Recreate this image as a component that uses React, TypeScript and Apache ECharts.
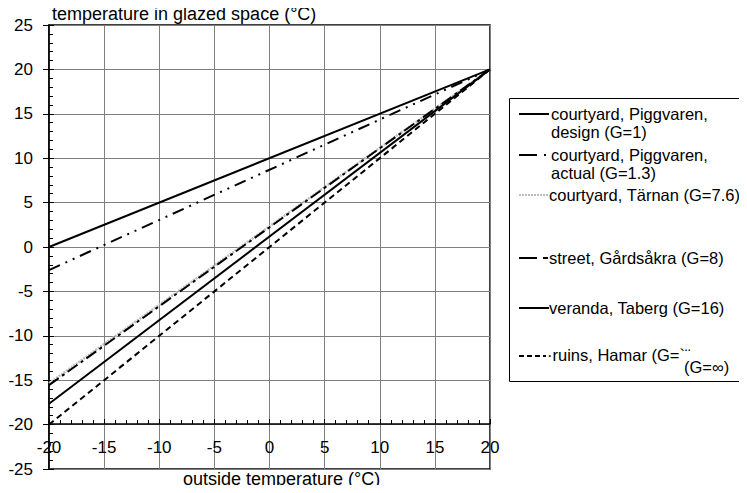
import React, { useEffect, useRef } from "react";
import * as echarts from "echarts";

const outsideTemps = [-20, 20];
const designG1 = [0, 20];
const actualG13 = [-2.6, 20];
const tarnanG76 = [-15.35, 20];
const gardsakraG8 = [-15.56, 20];
const verandaG16 = [-17.65, 20];
const ruinsGinf = [-20, 20];

const yTicks = { min: -25, max: 25, step: 5 };
const xTicks = { min: -20, max: 20, step: 5 };

const FONT = "Arial";
const FS = 17;
const FS_TITLE = 18;
const FS_LEGEND = 16.5;

const pts = (vals: number[]) => outsideTemps.map((x, i) => [x, vals[i]]);

export default function App() {
  const ref = useRef<HTMLDivElement>(null);
  useEffect(() => {
    if (!ref.current) return;
    const chart = echarts.init(ref.current, undefined, { renderer: "svg" });
    const mk = (name: string, vals: number[], lineStyle: any, z = 3) => ({
      name,
      type: "line",
      data: pts(vals),
      symbol: "none",
      z,
      lineStyle: { color: "#000", width: 2, ...lineStyle },
    });
    const lx0 = 519;
    const txt = (x: number, y: number, text: string, fs = FS_LEGEND) => ({
      type: "text",
      x,
      y,
      z: 10,
      style: { text, fontSize: fs, fontFamily: FONT, fill: "#000", verticalAlign: "middle", align: "left" },
    });
    const seg = (x1: number, x2: number, y: number, extra: any = {}) => ({
      type: "line",
      z: 10,
      shape: { x1, y1: y, x2, y2: y },
      style: { stroke: "#000", lineWidth: 2, ...extra },
    });
    chart.setOption({
      animation: false,
      grid: {
        left: 49,
        right: 257,
        top: 25,
        bottom: 24,
        show: true,
        borderColor: "#000",
        borderWidth: 1.5,
        backgroundColor: "transparent",
      },
      xAxis: {
        type: "value",
        min: xTicks.min,
        max: xTicks.max,
        interval: xTicks.step,
        offset: -45,
        axisLine: { show: true, onZero: false, lineStyle: { color: "#000", width: 1.5 } },
        axisTick: { show: true, inside: true, length: 5, lineStyle: { color: "#000" } },
        minorTick: { show: true, splitNumber: 5, length: 4, lineStyle: { color: "#000" } },
        splitLine: { show: true, lineStyle: { color: "#808080", width: 1 } },
        axisLabel: { color: "#000", fontSize: FS, fontFamily: FONT, margin: 15 },
      },
      yAxis: [
        {
          type: "value",
          min: yTicks.min,
          max: yTicks.max,
          interval: yTicks.step,
          axisLine: { show: true, onZero: false, lineStyle: { color: "#000", width: 1.5 } },
          axisTick: { show: true, inside: false, length: 6, lineStyle: { color: "#000" } },
          splitLine: { show: true, lineStyle: { color: "#808080", width: 1 } },
          axisLabel: { color: "#000", fontSize: FS, fontFamily: FONT, margin: 16 },
        },
        {
          type: "value",
          position: "left",
          offset: 0,
          min: yTicks.min,
          max: yTicks.max,
          interval: yTicks.step,
          axisLine: { show: false, onZero: false },
          axisTick: { show: true, inside: true, length: 5, lineStyle: { color: "#000" } },
          minorTick: { show: true, splitNumber: 5, length: 4, lineStyle: { color: "#000" } },
          splitLine: { show: false },
          axisLabel: { show: false },
        },
      ],
      series: [
        mk("courtyard, Piggvaren, design (G=1)", designG1, { type: "solid" }),
        mk("courtyard, Piggvaren, actual (G=1.3)", actualG13, { type: [12, 6, 2, 6, 2, 6] }),
        mk("courtyard, Tärnan (G=7.6)", tarnanG76, { color: "#bdbdbd", width: 2.5, type: [2, 1] }, 2),
        mk("street, Gårdsåkra (G=8)", gardsakraG8, { type: [12, 4, 3, 4] }, 4),
        mk("veranda, Taberg (G=16)", verandaG16, { type: "solid" }),
        mk("ruins, Hamar (G=∞)", ruinsGinf, { type: [6, 4] }),
      ],
      graphic: [
        txt(52, 14, "temperature in glazed space (°C)", FS_TITLE),
        txt(183, 479, "outside temperature (°C)", FS_TITLE),
        {
          type: "rect",
          z: 9,
          shape: { x: 509.5, y: 98.5, width: 236, height: 283 },
          style: { fill: "#fff", stroke: "#000", lineWidth: 1 },
        },
        seg(lx0, 549, 114),
        txt(551, 114, "courtyard, Piggvaren,"),
        txt(551, 132, "design (G=1)"),
        seg(lx0, 537, 155),
        seg(544, 546, 155),
        txt(551, 155, "courtyard, Piggvaren,"),
        txt(551, 173, "actual (G=1.3)"),
        seg(lx0, 549, 195, { stroke: "#bdbdbd", lineWidth: 2, lineDash: [2, 1] }),
        txt(549, 195, "courtyard, Tärnan (G=7.6)"),
        seg(lx0, 537, 258),
        seg(543, 548, 258),
        txt(549, 258, "street, Gårdsåkra (G=8)"),
        seg(lx0, 549, 308),
        txt(549, 308, "veranda, Taberg (G=16)"),
        seg(lx0, 546, 356, { lineDash: [5, 3] }),
        txt(547, 355, "·ruins, Hamar (G=`¨"),
        txt(684, 367, "(G=∞)"),
      ],
    });
    return () => chart.dispose();
  }, []);
  return <div ref={ref} style={{ width: 747, height: 493, margin: -8 }} />;
}
